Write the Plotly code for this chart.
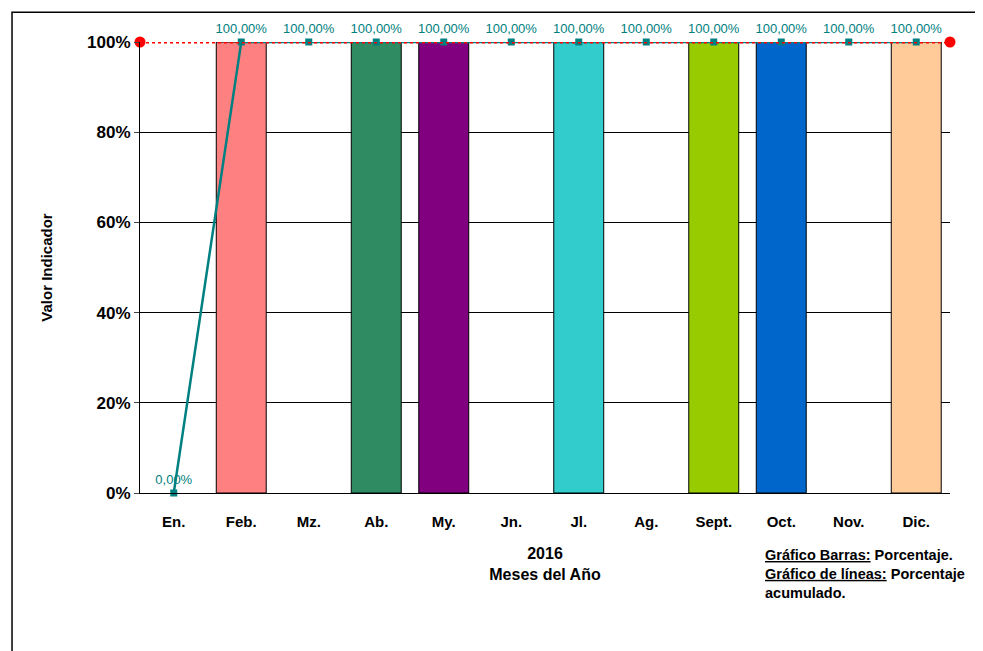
import plotly.graph_objects as go

months = ["En.", "Feb.", "Mz.", "Ab.", "My.", "Jn.", "Jl.", "Ag.", "Sept.", "Oct.", "Nov.", "Dic."]
bar_values = [0, 1, 0, 1, 1, 0, 1, 0, 1, 1, 0, 1]
line_values = [0, 1, 1, 1, 1, 1, 1, 1, 1, 1, 1, 1]
bar_colors = ["#ff8080", "#ff8080", "#ffffff", "#2e8b62", "#800080", "#ffffff",
              "#33cccc", "#ffffff", "#99cc00", "#0066cc", "#ffffff", "#ffcc99"]
target = 1.0

F = "Liberation Sans"
fig = go.Figure()
bx = [m for m, v in zip(months, bar_values) if v > 0]
by = [v for v in bar_values if v > 0]
bc = [c for c, v in zip(bar_colors, bar_values) if v > 0]
fig.add_trace(go.Bar(x=bx, y=by, marker=dict(color=bc, line=dict(color="black", width=1)),
                     width=0.74, hoverinfo="skip"))
fig.add_trace(go.Scatter(x=months, y=line_values, mode="lines+markers+text", cliponaxis=False,
                         line=dict(color="#008080", width=2.5),
                         marker=dict(symbol="square", size=7, color="#008080"),
                         text=[f"{v*100:.2f}%".replace(".", ",") for v in line_values],
                         textposition="top center", textfont=dict(family=F, size=13, color="#008080")))
fig.add_trace(go.Scatter(x=[0, 1], y=[target, target], xaxis="x2", mode="lines+markers",
                         line=dict(color="red", width=3, dash="dot"),
                         marker=dict(color="red", size=11), cliponaxis=False))

fig.update_layout(
    width=983, height=651, showlegend=False, bargap=0.3,
    paper_bgcolor="white", plot_bgcolor="white",
    margin=dict(l=132, r=41, t=34, b=166),
    font=dict(family=F, color="black"),
    xaxis=dict(categoryorder="array", categoryarray=months, range=[-0.5, 11.5],
               tickvals=months, ticktext=[f"<b>{m}</b>" for m in months],
               showline=True, linecolor="black", ticks="", tickfont=dict(size=15, family=F),
               ticklabelstandoff=15,
               title=dict(text="<b>2016<br>Meses del Año</b>", font=dict(size=16), standoff=18)),
    xaxis2=dict(overlaying="x", range=[0, 1], visible=False),
    yaxis=dict(range=[0, 1], tickvals=[0, .2, .4, .6, .8, 1],
               ticktext=["<b>0%</b>", "<b>20%</b>", "<b>40%</b>", "<b>60%</b>", "<b>80%</b>", "<b>100%</b>"],
               tickfont=dict(size=17), showgrid=True, gridcolor="black", gridwidth=1,
               showline=True, linecolor="black", ticks="outside", ticklen=5, zeroline=False,
               title=dict(text="<b>Valor Indicador</b>", font=dict(size=15), standoff=30)),
)
fig.add_annotation(xref="paper", yref="paper", x=0.769, y=-0.115, xanchor="left", yanchor="top",
                   align="left", showarrow=False, font=dict(size=14.5),
                   text="<b><u>Gráfico Barras:</u> Porcentaje.<br><u>Gráfico de líneas:</u> Porcentaje<br>acumulado.</b>")
fig.add_shape(type="rect", xref="paper", yref="paper", x0=-0.158, x1=1.1, y0=-0.5, y1=1.066,
              line=dict(color="black", width=1.5))
fig.write_html("out.html")
